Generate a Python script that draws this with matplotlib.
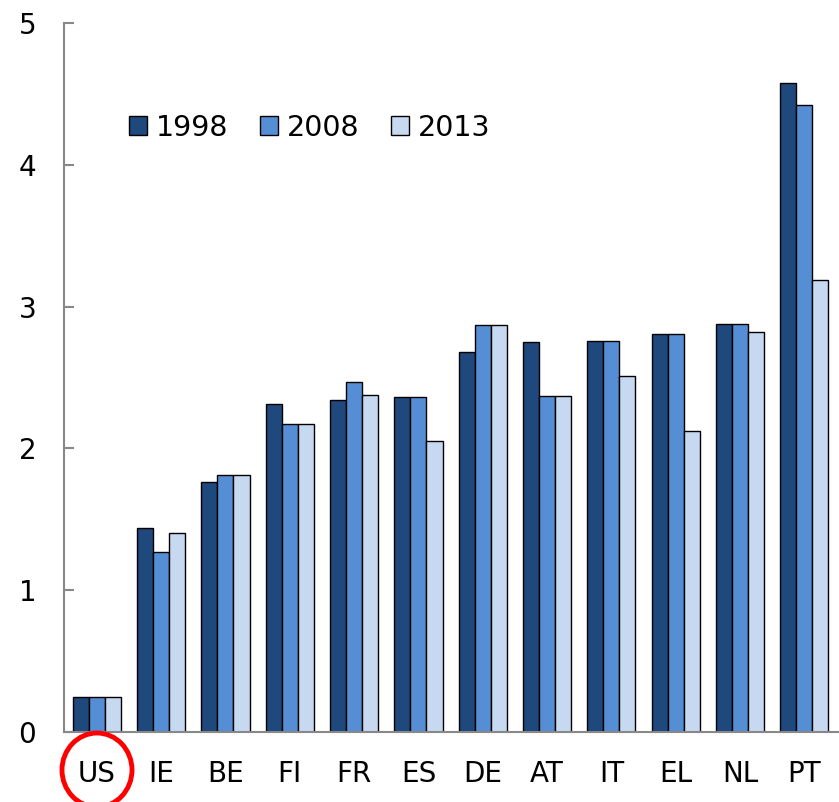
import numpy as np
from matplotlib import pyplot as plt
from matplotlib.patches import Ellipse

countries = ["US", "IE", "BE", "FI", "FR", "ES", "DE", "AT", "IT", "EL", "NL", "PT"]
years = ["1998", "2008", "2013"]
v1998 = [0.25, 1.44, 1.76, 2.31, 2.34, 2.36, 2.68, 2.75, 2.76, 2.81, 2.88, 4.58]
v2008 = [0.25, 1.27, 1.81, 2.17, 2.47, 2.36, 2.87, 2.37, 2.76, 2.81, 2.88, 4.42]
v2013 = [0.25, 1.40, 1.81, 2.17, 2.38, 2.05, 2.87, 2.37, 2.51, 2.12, 2.82, 3.19]
colors = ["#1f487c", "#558ed5", "#c6d9f1"]

fig = plt.figure(figsize=(8.39, 8.02), dpi=100)
ax = fig.add_axes([0.0763, 0.0873, 0.9237, 0.884])

x = np.arange(len(countries))
w = 0.25
for i, (vals, lab) in enumerate(zip([v1998, v2008, v2013], years)):
    ax.bar(x + (i - 1) * w, vals, w, color=colors[i], edgecolor="black",
           linewidth=1.0, label=lab)

ax.set_xlim(-0.51, 11.54)
ax.set_ylim(0, 5)
ax.set_yticks([0, 1, 2, 3, 4, 5])
ax.set_xticks(x)
ax.set_xticklabels(countries)

for s in ["top", "right"]:
    ax.spines[s].set_visible(False)
for s in ["left", "bottom"]:
    ax.spines[s].set_color("#888888")
    ax.spines[s].set_linewidth(1.5)

ax.tick_params(axis="y", direction="in", length=7, width=1.5, color="#888888",
               labelsize=20, pad=20)
ax.tick_params(axis="x", length=0, labelsize=20, pad=20)

ax.legend(loc="center", bbox_to_anchor=(0.317, 0.852), ncol=3, frameon=False,
          fontsize=20.5, handlelength=0.65, handleheight=0.65, handletextpad=0.3,
          columnspacing=1.1)

circ = Ellipse((97 / 839, 1 - 770 / 802), 70 / 839, 74 / 802,
               transform=fig.transFigure, fill=False, edgecolor="red",
               linewidth=3.5, clip_on=False)
fig.patches.append(circ)

fig.savefig("out.png", dpi=100)
